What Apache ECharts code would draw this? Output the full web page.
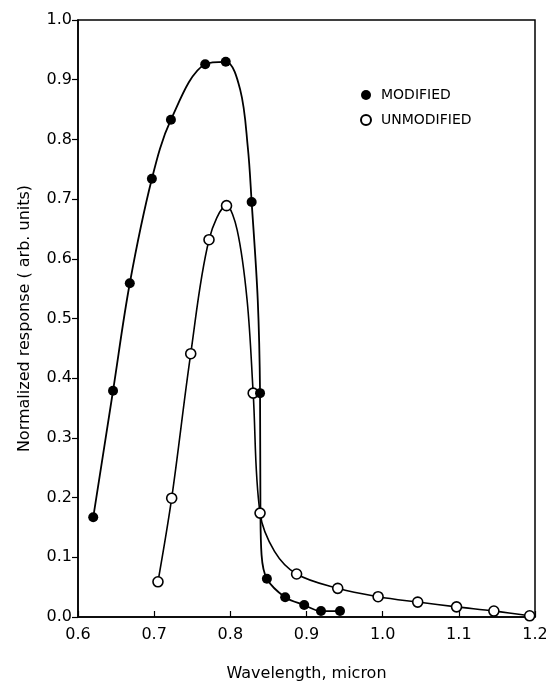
<!DOCTYPE html>
<html>
<head>
<meta charset="utf-8">
<script src="https://cdn.jsdelivr.net/npm/echarts@6/dist/echarts.min.js"></script>
<style>html,body{margin:0;padding:0;background:#fff}#c{width:546px;height:683px}</style>
</head>
<body>
<div id="c"></div>
<script>
// Marker points
const modX = [0.620, 0.646, 0.668, 0.697, 0.722, 0.767, 0.794, 0.828, 0.839, 0.848, 0.872, 0.897, 0.919, 0.944];
const modY = [0.167, 0.379, 0.559, 0.734, 0.833, 0.926, 0.930, 0.695, 0.375, 0.064, 0.033, 0.020, 0.010, 0.010];
const unmodX = [0.705, 0.723, 0.748, 0.772, 0.795, 0.830, 0.839, 0.887, 0.941, 0.994, 1.046, 1.097, 1.146, 1.193];
const unmodY = [0.059, 0.199, 0.441, 0.632, 0.689, 0.375, 0.174, 0.072, 0.048, 0.034, 0.025, 0.017, 0.010, 0.002];
// Curve traces (markers plus intermediate points along the drawn curves)
const modCurveX = [0.620, 0.646, 0.668, 0.697, 0.722, 0.767, 0.794, 0.813, 0.823, 0.828, 0.836, 0.839, 0.8395, 0.841, 0.848, 0.872, 0.897, 0.919, 0.944];
const modCurveY = [0.167, 0.379, 0.559, 0.734, 0.833, 0.926, 0.930, 0.883, 0.786, 0.695, 0.531, 0.375, 0.184, 0.104, 0.064, 0.033, 0.020, 0.010, 0.010];
const unmodCurveX = [0.705, 0.723, 0.748, 0.772, 0.795, 0.809, 0.822, 0.830, 0.839, 0.858, 0.887, 0.941, 0.994, 1.046, 1.097, 1.146, 1.193];
const unmodCurveY = [0.059, 0.199, 0.441, 0.632, 0.689, 0.648, 0.531, 0.375, 0.174, 0.110, 0.072, 0.048, 0.034, 0.025, 0.017, 0.010, 0.002];
const xTicks = [0.6, 0.7, 0.8, 0.9, 1.0, 1.1, 1.2];
const yTicks = [0.0, 0.1, 0.2, 0.3, 0.4, 0.5, 0.6, 0.7, 0.8, 0.9, 1.0];
const seriesNames = ['MODIFIED', 'UNMODIFIED'];

const zip = (a, b) => a.map((v, i) => [v, b[i]]);
const FONT = 'DejaVu Sans';
const chart = echarts.init(document.getElementById('c'), null, {renderer: 'canvas'});
chart.setOption({
  animation: false,
  backgroundColor: '#fff',
  grid: {left: 78, top: 20, right: 11, bottom: 66, show: true, borderColor: '#000', borderWidth: 1.5,
         containLabel: false, outerBoundsMode: 'none'},
  legend: {
    orient: 'vertical', left: 355, top: 83, itemGap: 11, itemWidth: 10, itemHeight: 10,
    data: seriesNames,
    textStyle: {fontFamily: FONT, fontSize: 14, color: '#000', padding: [0, 0, 0, 5]}
  },
  xAxis: {
    type: 'value', min: xTicks[0], max: xTicks[xTicks.length - 1], interval: 0.1,
    name: 'Wavelength, micron', nameLocation: 'middle', nameGap: 49,
    nameTextStyle: {fontFamily: FONT, fontSize: 16, color: '#000'},
    axisLine: {lineStyle: {color: '#000', width: 1.5}},
    axisTick: {inside: true, length: 6, lineStyle: {color: '#000', width: 1.2}},
    axisLabel: {fontFamily: FONT, fontSize: 16, color: '#000', margin: 10, formatter: v => v.toFixed(1)},
    splitLine: {show: false}
  },
  yAxis: {
    type: 'value', min: yTicks[0], max: yTicks[yTicks.length - 1], interval: 0.1,
    name: 'Normalized response ( arb. units)', nameLocation: 'middle', nameGap: 45,
    nameTextStyle: {fontFamily: FONT, fontSize: 16, color: '#000'},
    axisLine: {lineStyle: {color: '#000', width: 1.5}},
    axisTick: {inside: false, length: 6, lineStyle: {color: '#000', width: 1.2}},
    axisLabel: {fontFamily: FONT, fontSize: 16, color: '#000', margin: 6, formatter: v => v.toFixed(1)},
    splitLine: {show: false}
  },
  series: [
    {type: 'line', data: zip(modCurveX, modCurveY), smooth: 0.35, showSymbol: false, silent: true,
     lineStyle: {color: '#000', width: 1.8}, z: 2},
    {type: 'line', data: zip(unmodCurveX, unmodCurveY), smooth: 0.35, showSymbol: false, silent: true,
     lineStyle: {color: '#000', width: 1.6}, z: 2},
    {name: seriesNames[0], type: 'scatter', data: zip(modX, modY), symbol: 'circle', symbolSize: 10,
     itemStyle: {color: '#000', borderColor: '#000', borderWidth: 0, opacity: 1}, z: 4},
    {name: seriesNames[1], type: 'scatter', data: zip(unmodX, unmodY), symbol: 'circle', symbolSize: 10,
     itemStyle: {color: '#fff', borderColor: '#000', borderWidth: 1.6, opacity: 1}, z: 3}
  ]
});
</script>
</body>
</html>
